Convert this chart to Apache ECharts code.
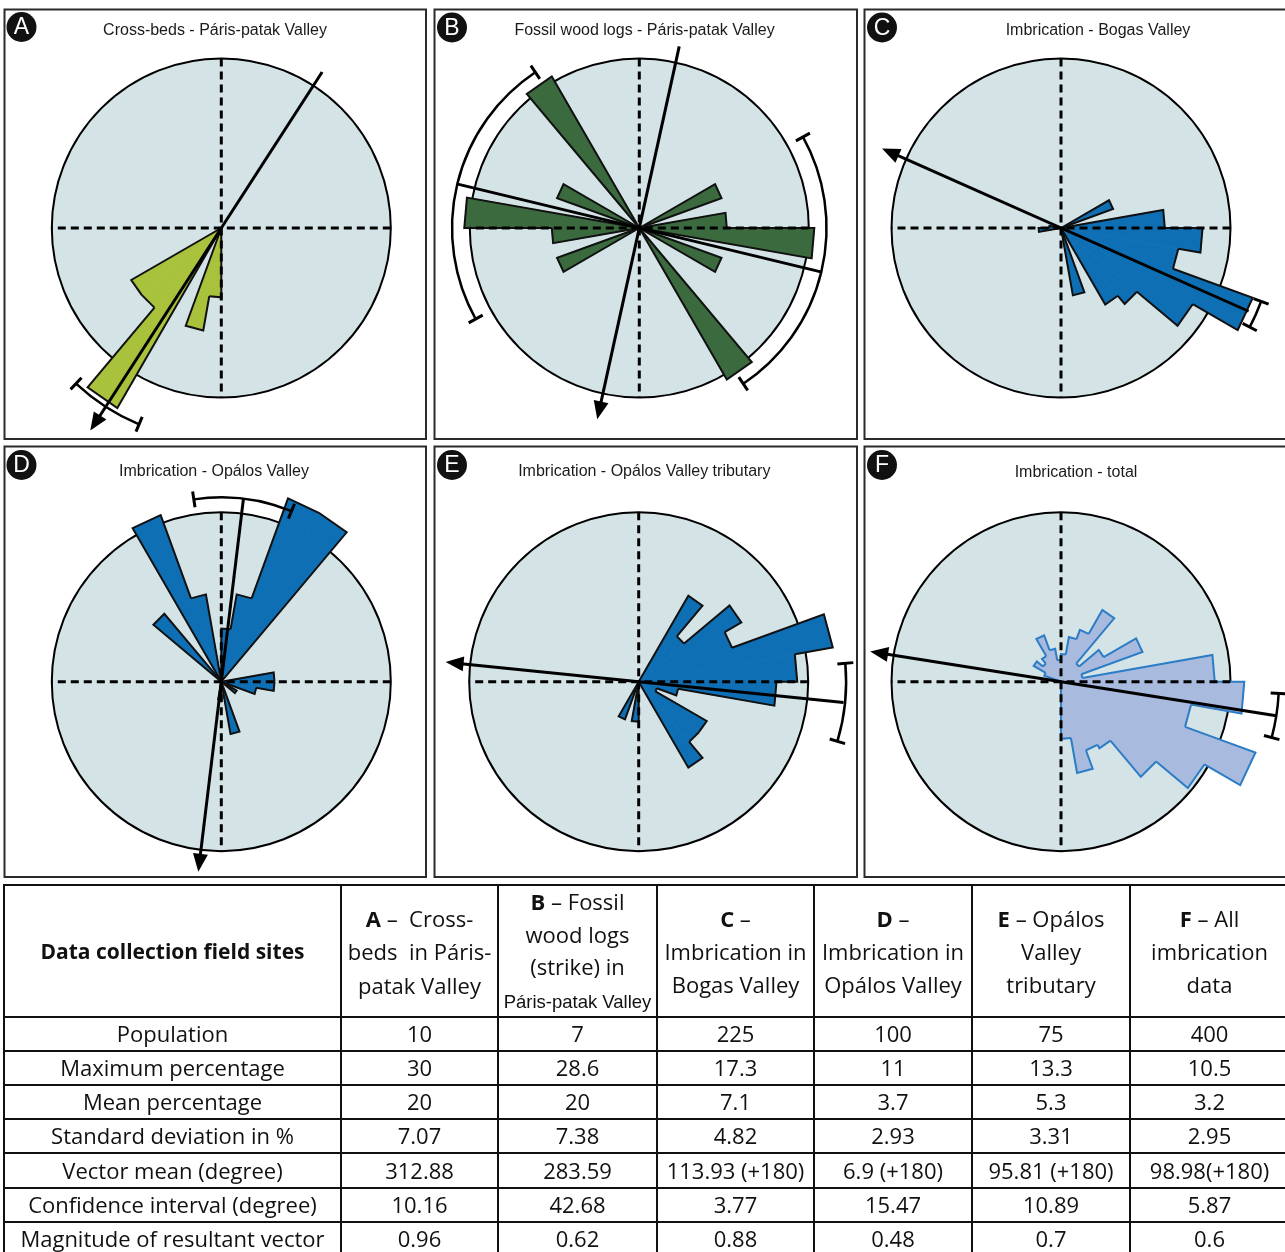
<!DOCTYPE html>
<html>
<head>
<meta charset="utf-8">
<script src="https://cdn.jsdelivr.net/npm/echarts@6/dist/echarts.min.js"></script>
<style>
  html, body { margin: 0; padding: 0; background: #ffffff; }
  #chart { width: 1285px; height: 1252px; }
</style>
</head>
<body>
<div id="chart"></div>
<script>
// ---------------------------------------------------------------------------
// Rose diagram data: percentage of readings in each 10° class,
// classes start at 0° (north) and run clockwise.
// ---------------------------------------------------------------------------
const BIN = 10;
const binStarts = Array.from({ length: 36 }, (_, i) => i * BIN);

const roseA = [0, 0, 0, 0, 0, 0, 0, 0, 0, 0, 0, 0, 0, 0, 0, 0, 0, 0,
               10, 15, 0, 30, 15, 15, 0, 0, 0, 0, 0, 0, 0, 0, 0, 0, 0, 0];
const roseB = [0, 0, 0, 0, 0, 0, 14.3, 0, 14.3, 28.6, 0, 14.3, 0, 0, 28.6, 0, 0, 0,
               0, 0, 0, 0, 0, 0, 14.3, 0, 14.3, 28.6, 0, 14.3, 0, 0, 28.6, 0, 0, 0];
const roseC = [0, 0, 0, 0, 0, 0, 4.7, 0, 8.8, 12.0, 10.1, 17.3, 12.9, 8.4, 7.5, 0, 5.8, 0,
               0, 0, 0, 0, 0, 0, 0, 0, 1.9, 1.0, 0, 0, 0, 0, 0, 0, 0, 0];
const roseD = [3, 5, 11, 11, 0, 0, 0, 0, 3, 3, 2, 0, 1, 0, 0, 0, 3, 0,
               1, 0, 0, 0, 0, 0, 0, 0, 0, 0, 0, 0, 0, 5, 0, 10, 5, 0];
const roseE = [0, 0, 0, 6.7, 4.0, 8.0, 6.7, 13.3, 10.7, 9.3, 2.7, 1.3, 5.3, 5.3, 6.7, 0, 0, 0,
               2.7, 0, 2.7, 0, 0, 0, 0, 0, 0, 0, 0, 0, 0, 0, 0, 0, 0, 0];
const roseF = [1.4, 2.3, 2.8, 4.2, 1.2, 2.5, 4.4, 1.1, 7.8, 9.3, 6.7, 10.5, 8.4, 6.3, 3.9, 3.7, 4.7, 2.9,
               0, 0, 0, 0, 0, 0, 0, 0, 0, 0, 0, 0.9, 1.6, 1.2, 1.5, 2.5, 1.7, 1.1];

// Percentage represented by the outer circle of each diagram
const outerRing = [24.45, 27.7, 14.37, 9.56, 11.44, 8.6];

// Mean directions: [head radius %, bearing°, tail radius %, arrow (1) / plain axis (0)]
const vectorsA = [[34.8, 212.88, 26.8, 1]];
const vectorsB = [[30.7, 283.59, 30.7, 0], [32.0, 192.4, 30.4, 1]];
const vectorsC = [[16.6, 293.93, 17.4, 1]];
const vectorsD = [[10.8, 186.9, 10.4, 1]];
const vectorsE = [[13.1, 275.81, 13.9, 1]];
const vectorsF = [[9.8, 278.98, 11.06, 1]];

// Confidence arcs: [radius %, centre bearing°, half width°]
const arcsA = [[30.7, 212.88, 10.16]];
const arcsB = [[30.6, 283.59, 42.68], [30.6, 103.59, 42.68]];
const arcsC = [[18.07, 113.93, 3.77]];
const arcsD = [[10.4, 6.9, 15.47]];
const arcsE = [[14.0, 95.81, 10.89]];
const arcsF = [[11.06, 98.98, 5.87]];

const panelLetters = ['A', 'B', 'C', 'D', 'E', 'F'];
const panelTitles = [
  'Cross-beds - Páris-patak Valley',
  'Fossil wood logs - Páris-patak Valley',
  'Imbrication - Bogas Valley',
  'Imbrication - Opálos Valley',
  'Imbrication - Opálos Valley tributary',
  'Imbrication - total'
];

// ---------------------------------------------------------------------------
// Summary table
// ---------------------------------------------------------------------------
const firstHead = 'Data collection field sites';
const columnHeads = [
  ['{b|A} –  Cross-', 'beds  in Páris-', 'patak Valley'],
  ['{b|B} – Fossil', 'wood logs', '(strike) in', '{s|Páris-patak Valley}'],
  ['{b|C} –', 'Imbrication in', 'Bogas Valley'],
  ['{b|D} –', 'Imbrication in', 'Opálos Valley'],
  ['{b|E} – Opálos', 'Valley', 'tributary'],
  ['{b|F} – All', 'imbrication', 'data']
];
const rowLabels = [
  'Population', 'Maximum percentage', 'Mean percentage', 'Standard deviation in %',
  'Vector mean (degree)', 'Confidence interval (degree)', 'Magnitude of resultant vector'
];
const population = ['10', '7', '225', '100', '75', '400'];
const maxPercentage = ['30', '28.6', '17.3', '11', '13.3', '10.5'];
const meanPercentage = ['20', '20', '7.1', '3.7', '5.3', '3.2'];
const stdDeviation = ['7.07', '7.38', '4.82', '2.93', '3.31', '2.95'];
const vectorMean = ['312.88', '283.59', '113.93 (+180)', '6.9 (+180)', '95.81 (+180)', '98.98(+180)'];
const confidenceInterval = ['10.16', '42.68', '3.77', '15.47', '10.89', '5.87'];
const magnitude = ['0.96', '0.62', '0.88', '0.48', '0.7', '0.6'];
const tableRows = [population, maxPercentage, meanPercentage, stdDeviation,
                   vectorMean, confidenceInterval, magnitude];

// ---------------------------------------------------------------------------
// Layout and styling
// ---------------------------------------------------------------------------
const roses = [roseA, roseB, roseC, roseD, roseE, roseF];
const vectors = [vectorsA, vectorsB, vectorsC, vectorsD, vectorsE, vectorsF];
const arcs = [arcsA, arcsB, arcsC, arcsD, arcsE, arcsF];

const RADIUS = 169.5;
const layout = [
  { cx: 221.3, cy: 228,   box: [4.5, 9.5, 421.5, 429.5],   badge: [21.5, 27],  title: [215, 31] },
  { cx: 639.3, cy: 228,   box: [434.5, 9.5, 422.5, 429.5], badge: [452, 27.5], title: [644.5, 31] },
  { cx: 1061,  cy: 228,   box: [864.5, 9.5, 425, 429.5],   badge: [882, 27.5], title: [1098, 31] },
  { cx: 221.3, cy: 681.7, box: [4.5, 446.5, 421.5, 430.5], badge: [21.5, 465], title: [214, 472] },
  { cx: 638.7, cy: 681.7, box: [434.5, 446.5, 422.5, 430.5], badge: [452, 465], title: [644.3, 472] },
  { cx: 1061,  cy: 681.7, box: [864.5, 446.5, 425, 430.5], badge: [882, 465], title: [1076, 473] }
];
const petalFill = ['#a9c23c', '#3a6a3d', '#0f6fb5', '#0f6fb5', '#0f6fb5', '#a8badd'];
const petalEdge = ['#111111', '#111111', '#111111', '#111111', '#111111', '#2c7cc6'];
const DISC = '#d4e3e6';
const ARROW_LEN = 18, ARROW_HALF = 7.5, CAP_HALF = 8;

const tableCols = [4, 341, 498, 657, 814, 972, 1130, 1289];
const tableRowsY = [885, 1017, 1051, 1085, 1119, 1153, 1188, 1222, 1256];
const headLineY = [[920, 953, 987], [903, 936, 968, 1002], [920, 953, 986], [920, 953, 986], [920, 953, 986], [920, 953, 986]];
const TABLE_FONT = '"Open Sans", Lato, sans-serif';
const TABLE_SIZE = 22;

// One data item per class: [value, class start, previous class value, next class value]
function petalItems(values) {
  const n = values.length;
  return values.map((v, i) => [v, binStarts[i], values[(i - 1 + n) % n], values[(i + 1) % n]]);
}

// Filled triangle of a class
function petalFillRenderer(color) {
  return function (params, api) {
    const v = api.value(0);
    if (!(v > 0)) return null;
    const a0 = api.value(1);
    const c = api.coord([0, a0]);
    const p0 = api.coord([v, a0]);
    const p1 = api.coord([v, a0 + BIN]);
    return {
      type: 'polygon',
      shape: { points: [c, p0, p1] },
      style: { fill: color, stroke: color, lineWidth: 0.8 }
    };
  };
}

// Outer edge of a class plus the radial steps to lower neighbours
function petalEdgeRenderer(color) {
  return function (params, api) {
    const v = api.value(0);
    if (!(v > 0)) return null;
    const a0 = api.value(1), a1 = a0 + BIN;
    const prev = Math.min(api.value(2), v);
    const next = Math.min(api.value(3), v);
    return {
      type: 'polyline',
      shape: { points: [api.coord([prev, a0]), api.coord([v, a0]), api.coord([v, a1]), api.coord([next, a1])] },
      style: { stroke: color, lineWidth: 2, fill: null, lineJoin: 'miter' }
    };
  };
}

function renderVector(params, api) {
  const bearing = api.value(1);
  const head = api.coord([api.value(0), bearing]);
  const tail = api.coord([api.value(2), bearing + 180]);
  const arrow = api.value(3) === 1;
  const dx = head[0] - tail[0], dy = head[1] - tail[1];
  const len = Math.hypot(dx, dy);
  const ux = dx / len, uy = dy / len;
  const end = arrow ? [head[0] - ux * ARROW_LEN * 0.6, head[1] - uy * ARROW_LEN * 0.6] : head;
  const children = [{
    type: 'line',
    shape: { x1: tail[0], y1: tail[1], x2: end[0], y2: end[1] },
    style: { stroke: '#000', lineWidth: 3 }
  }];
  if (arrow) {
    const bx = head[0] - ux * ARROW_LEN, by = head[1] - uy * ARROW_LEN;
    children.push({
      type: 'polygon',
      shape: { points: [[head[0], head[1]],
                        [bx - uy * ARROW_HALF, by + ux * ARROW_HALF],
                        [bx + uy * ARROW_HALF, by - ux * ARROW_HALF]] },
      style: { fill: '#000' }
    });
  }
  return { type: 'group', children: children };
}

function renderArc(params, api) {
  const r = api.value(0), mean = api.value(1), half = api.value(2);
  const c = api.coord([0, mean]);
  const p0 = api.coord([r, mean - half]);
  const p1 = api.coord([r, mean + half]);
  const rad = Math.hypot(p0[0] - c[0], p0[1] - c[1]);
  const a0 = Math.atan2(p0[1] - c[1], p0[0] - c[0]);
  let a1 = Math.atan2(p1[1] - c[1], p1[0] - c[0]);
  if (a1 < a0) a1 += Math.PI * 2;
  const cap = function (p) {
    const ux = (p[0] - c[0]) / rad, uy = (p[1] - c[1]) / rad;
    return {
      type: 'line',
      shape: { x1: p[0] - ux * CAP_HALF, y1: p[1] - uy * CAP_HALF,
               x2: p[0] + ux * CAP_HALF, y2: p[1] + uy * CAP_HALF },
      style: { stroke: '#000', lineWidth: 3 }
    };
  };
  return {
    type: 'group',
    children: [
      { type: 'arc', shape: { cx: c[0], cy: c[1], r: rad, startAngle: a0, endAngle: a1, clockwise: true },
        style: { stroke: '#000', fill: null, lineWidth: 2.5 } },
      cap(p0), cap(p1)
    ]
  };
}

const polar = [], angleAxis = [], radiusAxis = [], series = [];
layout.forEach((p, k) => {
  polar.push({ center: [p.cx, p.cy], radius: RADIUS });
  angleAxis.push({
    polarIndex: k, type: 'value', min: 0, max: 360, interval: 90,
    startAngle: 90, clockwise: true,
    axisLine: { show: true, lineStyle: { color: '#000', width: 2 } },
    axisTick: { show: false }, axisLabel: { show: false },
    splitLine: { show: false },
    splitArea: { show: true, areaStyle: { color: [DISC] } }
  });
  radiusAxis.push({
    polarIndex: k, type: 'value', min: 0, max: outerRing[k],
    axisLine: { show: false }, axisTick: { show: false },
    axisLabel: { show: false }, splitLine: { show: false }
  });
  const items = petalItems(roses[k]);
  series.push({
    type: 'custom', coordinateSystem: 'polar', polarIndex: k,
    data: items, renderItem: petalFillRenderer(petalFill[k]), clip: false, silent: true, z: 2
  });
  series.push({
    type: 'custom', coordinateSystem: 'polar', polarIndex: k,
    data: items, renderItem: petalEdgeRenderer(petalEdge[k]), clip: false, silent: true, z: 3
  });
  [[0, 180], [90, 270]].forEach(function (pair) {
    series.push({
      type: 'line', coordinateSystem: 'polar', polarIndex: k,
      data: [[outerRing[k], pair[0]], [outerRing[k], pair[1]]],
      symbol: 'none', clip: false, silent: true,
      lineStyle: { color: '#000', width: 3, type: [8, 5] },
      z: 4
    });
  });
  series.push({
    type: 'custom', coordinateSystem: 'polar', polarIndex: k,
    data: arcs[k], renderItem: renderArc, clip: false, silent: true, z: 5
  });
  series.push({
    type: 'custom', coordinateSystem: 'polar', polarIndex: k,
    data: vectors[k], renderItem: renderVector, clip: false, silent: true, z: 6
  });
});

// Frames, badges, titles and the summary table
const graphics = [];
layout.forEach((p, k) => {
  graphics.push({ type: 'rect', shape: { x: p.box[0], y: p.box[1], width: p.box[2], height: p.box[3] },
    style: { fill: null, stroke: '#2b2b2b', lineWidth: 2 } });
  graphics.push({ type: 'circle', shape: { cx: p.badge[0], cy: p.badge[1], r: 15 }, style: { fill: '#111' } });
  graphics.push({ type: 'text', style: { x: p.badge[0], y: p.badge[1] + 1, text: panelLetters[k],
    fill: '#fff', font: '23px "Liberation Sans", Arial, sans-serif', align: 'center', verticalAlign: 'middle' } });
  graphics.push({ type: 'text', style: { x: p.title[0], y: p.title[1], text: panelTitles[k],
    fill: '#1a1a1a', font: '16px "Liberation Sans", Arial, sans-serif', align: 'center', verticalAlign: 'middle' } });
});

const tableLeft = tableCols[0], tableRight = tableCols[tableCols.length - 1];
tableRowsY.forEach(function (y) {
  graphics.push({ type: 'line', shape: { x1: tableLeft - 1, y1: y, x2: tableRight, y2: y },
    style: { stroke: '#111', lineWidth: 2 } });
});
tableCols.forEach(function (x) {
  graphics.push({ type: 'line', shape: { x1: x, y1: tableRowsY[0] - 1, x2: x, y2: tableRowsY[tableRowsY.length - 1] },
    style: { stroke: '#111', lineWidth: 2 } });
});

const colCentre = (i) => (tableCols[i] + tableCols[i + 1]) / 2;
const richStyles = {
  b: { fontWeight: 'bold', fontSize: TABLE_SIZE, fontFamily: TABLE_FONT, fill: '#111' },
  s: { fontSize: 18.5, fontFamily: '"Liberation Sans", Arial, sans-serif', fill: '#111' }
};
const plainFont = TABLE_SIZE + 'px ' + TABLE_FONT;

graphics.push({ type: 'text', style: { x: colCentre(0), y: (tableRowsY[0] + tableRowsY[1]) / 2 + 2,
  text: firstHead, fill: '#111', font: 'bold 21px ' + TABLE_FONT, align: 'center', verticalAlign: 'middle' } });

columnHeads.forEach(function (lines, c) {
  lines.forEach(function (line, j) {
    graphics.push({ type: 'text', style: { x: colCentre(c + 1), y: headLineY[c][j] + 1, text: line,
      fill: '#111', font: plainFont, rich: richStyles, align: 'center', verticalAlign: 'middle' } });
  });
});

rowLabels.forEach(function (label, r) {
  const y = (tableRowsY[r + 1] + tableRowsY[r + 2]) / 2 + 2;
  graphics.push({ type: 'text', style: { x: colCentre(0), y: y, text: label,
    fill: '#111', font: plainFont, align: 'center', verticalAlign: 'middle' } });
  tableRows[r].forEach(function (val, c) {
    graphics.push({ type: 'text', style: { x: colCentre(c + 1), y: y, text: val,
      fill: '#111', font: plainFont, align: 'center', verticalAlign: 'middle' } });
  });
});

const chart = echarts.init(document.getElementById('chart'), null, { renderer: 'canvas' });
chart.setOption({
  backgroundColor: '#ffffff',
  animation: false,
  polar: polar,
  angleAxis: angleAxis,
  radiusAxis: radiusAxis,
  series: series,
  graphic: { elements: graphics }
});
</script>
</body>
</html>
